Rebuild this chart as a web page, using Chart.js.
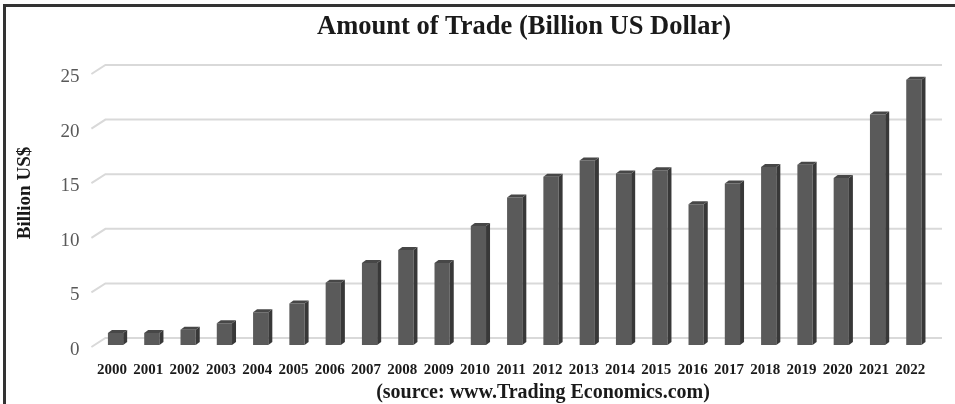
<!DOCTYPE html>
<html>
<head>
<meta charset="utf-8">
<script src="https://cdn.jsdelivr.net/npm/chart.js@4"></script>
<style>
  html, body { margin: 0; padding: 0; background: #fff; }
  #wrap { position: relative; width: 955px; height: 404px; }
  #frame {
    position: absolute; left: 3px; top: 4px; right: -10px; bottom: -10px;
    border-top: 3px solid #333; border-left: 3px solid #333;
    pointer-events: none;
  }
</style>
</head>
<body>
<div id="wrap">
  <canvas id="tradeChart" width="955" height="404"></canvas>
  <div id="frame"></div>
</div>
<script>
// Data
const years = ['2000', '2001', '2002', '2003', '2004', '2005', '2006', '2007', '2008', '2009', '2010',
               '2011', '2012', '2013', '2014', '2015', '2016', '2017', '2018', '2019', '2020', '2021', '2022'];
const tradeValues = [1.1, 1.1, 1.4, 2.0, 3.0, 3.8, 5.7, 7.5, 8.7, 7.5, 10.9,
                     13.5, 15.4, 16.9, 15.7, 16.0, 12.9, 14.8, 16.3, 16.5, 15.3, 21.1, 24.3];
const yTicks = [0, 5, 10, 15, 20, 25];

const titleText = 'Amount of Trade (Billion US Dollar)';
const yTitleText = 'Billion US$';
const sourceText = '(source: www.Trading Economics.com)';

const serif = "'Liberation Serif', 'Times New Roman', serif";

// back-wall gridlines with the little slanted "floor" segment
const wallGrid = {
    id: 'wallGrid',
    beforeDatasetsDraw(chart) {
        const { ctx, chartArea } = chart;
        const y = chart.scales.y;
        ctx.save();
        ctx.strokeStyle = '#d9d9d9';
        ctx.lineWidth = 2;
        yTicks.forEach(v => {
            const py = y.getPixelForValue(v);
            ctx.beginPath();
            ctx.moveTo(chartArea.left - 6, py + 2);
            ctx.lineTo(chartArea.left + 8, py - 7);
            ctx.lineTo(chartArea.right + 10, py - 7);
            ctx.stroke();
        });
        ctx.restore();
    }
};

// side and top faces to fake the 3D columns
const columnDepth = {
    id: 'columnDepth',
    afterDatasetsDraw(chart) {
        const { ctx } = chart;
        const d = 4, dy = 3;
        chart.getDatasetMeta(0).data.forEach(bar => {
            const { x, y, base, width } = bar.getProps(['x', 'y', 'base', 'width'], true);
            const r = x + width / 2, l = x - width / 2;
            ctx.save();
            ctx.fillStyle = '#383838';
            ctx.beginPath();
            ctx.moveTo(r, y);
            ctx.lineTo(r + d, y - dy);
            ctx.lineTo(r + d, base - dy);
            ctx.lineTo(r, base);
            ctx.closePath();
            ctx.fill();
            ctx.fillStyle = '#474747';
            ctx.beginPath();
            ctx.moveTo(l, y);
            ctx.lineTo(l + d, y - dy);
            ctx.lineTo(r + d, y - dy);
            ctx.lineTo(r, y);
            ctx.closePath();
            ctx.fill();
            ctx.restore();
        });
    }
};

// title, rotated axis title and source line
const captions = {
    id: 'captions',
    afterDraw(chart) {
        const { ctx } = chart;
        ctx.save();
        ctx.fillStyle = '#1a1a1a';
        ctx.textAlign = 'center';
        ctx.textBaseline = 'middle';
        ctx.font = 'bold 26.5px ' + serif;
        ctx.fillText(titleText, 524, 27);
        ctx.font = 'bold 20px ' + serif;
        ctx.fillText(sourceText, 543, 393);
        ctx.translate(25, 193);
        ctx.rotate(-Math.PI / 2);
        ctx.font = 'bold 19px ' + serif;
        ctx.fillText(yTitleText, 0, 0);
        ctx.restore();
    }
};

const ctx = document.getElementById('tradeChart').getContext('2d');
const tradeChart = new Chart(ctx, {
    type: 'bar',
    data: {
        labels: years,
        datasets: [{
            label: 'Amount of Trade',
            data: tradeValues,
            backgroundColor: '#5a5a5a',
            borderWidth: 0,
            barPercentage: 0.42,
            categoryPercentage: 1
        }]
    },
    options: {
        responsive: false,
        animation: false,
        layout: {
            padding: { left: 0, right: 23, top: 72, bottom: 0 }
        },
        plugins: {
            legend: { display: false },
            tooltip: { enabled: false }
        },
        scales: {
            x: {
                grid: { display: false, drawTicks: false },
                border: { display: false },
                ticks: {
                    color: '#1a1a1a',
                    font: { family: serif, size: 15, weight: 'bold' },
                    padding: 16,
                    labelOffset: -3.5,
                    maxRotation: 0,
                    autoSkip: false
                },
                afterFit(scale) { scale.height = 59; }
            },
            y: {
                min: 0,
                max: 25,
                grid: { display: false, drawTicks: false },
                border: { display: false },
                ticks: {
                    stepSize: 5,
                    color: '#595959',
                    font: { family: serif, size: 19 },
                    padding: 18,
                    labelOffset: 5
                },
                afterFit(scale) { scale.width = 97.4; }
            }
        }
    },
    plugins: [wallGrid, columnDepth, captions]
});
</script>
</body>
</html>
